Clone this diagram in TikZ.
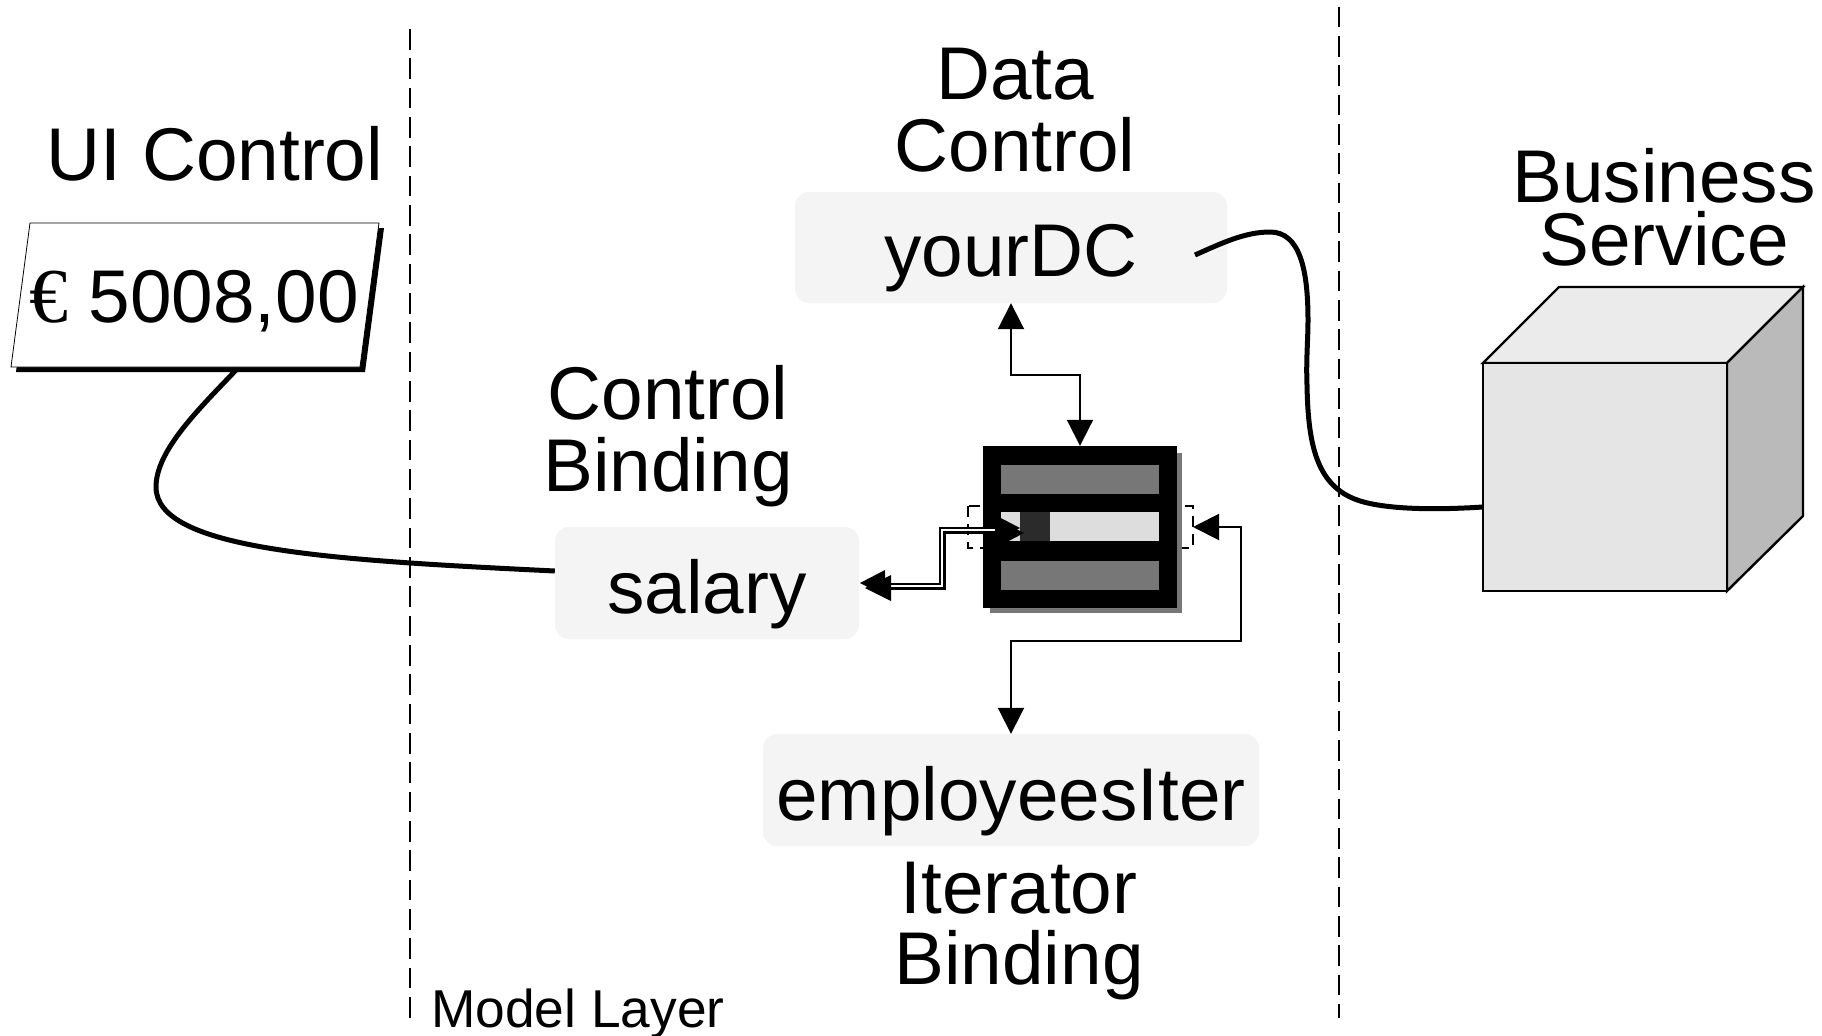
\documentclass[tikz,border=0pt]{standalone}
\usepackage{fontspec}
\setmainfont{Liberation Sans}
\newfontfamily\eurofont{Liberation Serif}
\usetikzlibrary{arrows.meta}
\definecolor{boxgray}{HTML}{F4F4F4}
\definecolor{bargray}{HTML}{777777}
\definecolor{barlight}{HTML}{DDDDDD}
\definecolor{bardark}{HTML}{2B2B2B}
\tikzset{
  x=1bp,y=-1bp,
  lab/.style={align=center,inner sep=0pt,font=\fontsize{75}{72}\selectfont},
  pill/.style={fill=boxgray,rounded corners=14bp,inner sep=0pt,text depth=0pt,font=\fontsize{75}{72}\selectfont},
  wire/.style={line width=2bp,{Triangle[length=26bp,width=26bp]}-{Triangle[length=26bp,width=26bp]}},
  sep/.style={line width=2bp,dash pattern=on 20.7bp off 8.63bp},
  thickcurve/.style={line width=5bp},
  head/.style={fill=black},
}
\begin{document}
\begin{tikzpicture}
\useasboundingbox (0,0) rectangle (1822,1035);
\fill[white] (0,0) rectangle (1822,1035);
\draw[sep] (410,29) -- (410,1020);
\draw[sep] (1339,6.7) -- (1339,1018);
% labels
\node[lab] (uil) at (215,154) {UI Control};
\node[lab] (dcl) at (1015,110) {Data\\Control};
\node[lab,font=\fontsize{75}{63}\selectfont] (bsl) at (1664,207) {Business\\Service};
\node[lab] (cbl) at (668,436) {Control\\Binding};
\node[lab] (ibl) at (1019,931) {Iterator\\Binding};
\node[inner sep=0pt,anchor=base west,font=\fontsize{53.5}{60}\selectfont] (ml) at (431,1027) {Model Layer};
% boxes
\node[pill,minimum width=432bp,minimum height=111bp] (dc) at (1011,247.5) {\raisebox{-6bp}{yourDC}};
\node[pill,minimum width=304bp,minimum height=112bp] (sal) at (707,583) {\raisebox{-6bp}{salary}};
\node[pill,minimum width=496bp,minimum height=112bp] (emp) at (1011,790) {\raisebox{-6bp}{employeesIter}};
% UI control
\fill[black] (35,228) -- (384,228) -- (365,372) -- (16,372) -- cycle;
\draw[fill=white,line width=0.8bp] (30,223) -- (379,223) -- (360,367) -- (11,367) -- cycle;
\node[inner sep=0pt,font=\fontsize{75}{72}\selectfont] (val) at (194,301) {{\eurofont\fontsize{78}{72}\selectfont €} 5008,00};
\coordinate (uib) at (237,369);
% cube
\draw[line width=2.4bp,fill=black!8] (1483,363) -- (1559,287) -- (1803,287) -- (1727,363) -- cycle;
\draw[line width=2.4bp,fill=black!27] (1727,363) -- (1803,287) -- (1803,516) -- (1727,591) -- cycle;
\draw[line width=2.4bp,fill=black!10] (1483,363) rectangle (1727,591);
\coordinate (cubel) at (1483,507);
% iterator
\draw[line width=2.4bp,dash pattern=on 11bp off 7bp] (968,506) rectangle (1193,548);
\fill[bargray] (990,453) rectangle (1182,613);
\node[fill=black,minimum width=194bp,minimum height=162bp,inner sep=0pt] (iter) at (1080,527) {};
\fill[bargray] (1001,465) rectangle (1159,494);
\fill[barlight] (1001,512) rectangle (1159,541);
\fill[bargray] (1001,561) rectangle (1159,590);
\fill[bardark] (1020,512) rectangle (1050,541);
% connectors
\coordinate (iterl) at (1000,530);
\coordinate (iterr) at (1193,527);
\coordinate (salr) at (885,586);
\coordinate (sall) at ([yshift=12bp]sal.west);
\draw[wire] (dc.south) |- (1080,375) -- (iter.north);
\draw[wire] (iterr) -| (1241,641) -| (emp.north);
\draw[line width=7bp] (salr) -| (942,530) -- (iterl);
\draw[line width=2.6bp,white] (salr) -| (942,530) -- (iterl);
\fill[head] (1020,528) -- (995,515) -- (995,541) -- cycle;
\fill[head] (1024,533) -- (999,520) -- (999,546) -- cycle;
\fill[head] (860,583) -- (885,570) -- (885,596) -- cycle;
\fill[head] (865,588) -- (891,575) -- (891,601) -- cycle;
\draw[thickcurve] (uib) .. controls (200,408) and (156,450) .. (156,487) .. controls (156,550) and (330,560) .. (sall);
\draw[thickcurve] (1195,255) .. controls (1222,243) and (1245,232) .. (1270,232) .. controls (1300,232) and (1308,270) .. (1308,320) .. controls (1308,340) and (1306,360) .. (1307,385) .. controls (1308,440) and (1315,480) .. (1350,497) .. controls (1372,508) and (1420,511) .. (cubel);
\end{tikzpicture}
\end{document}
